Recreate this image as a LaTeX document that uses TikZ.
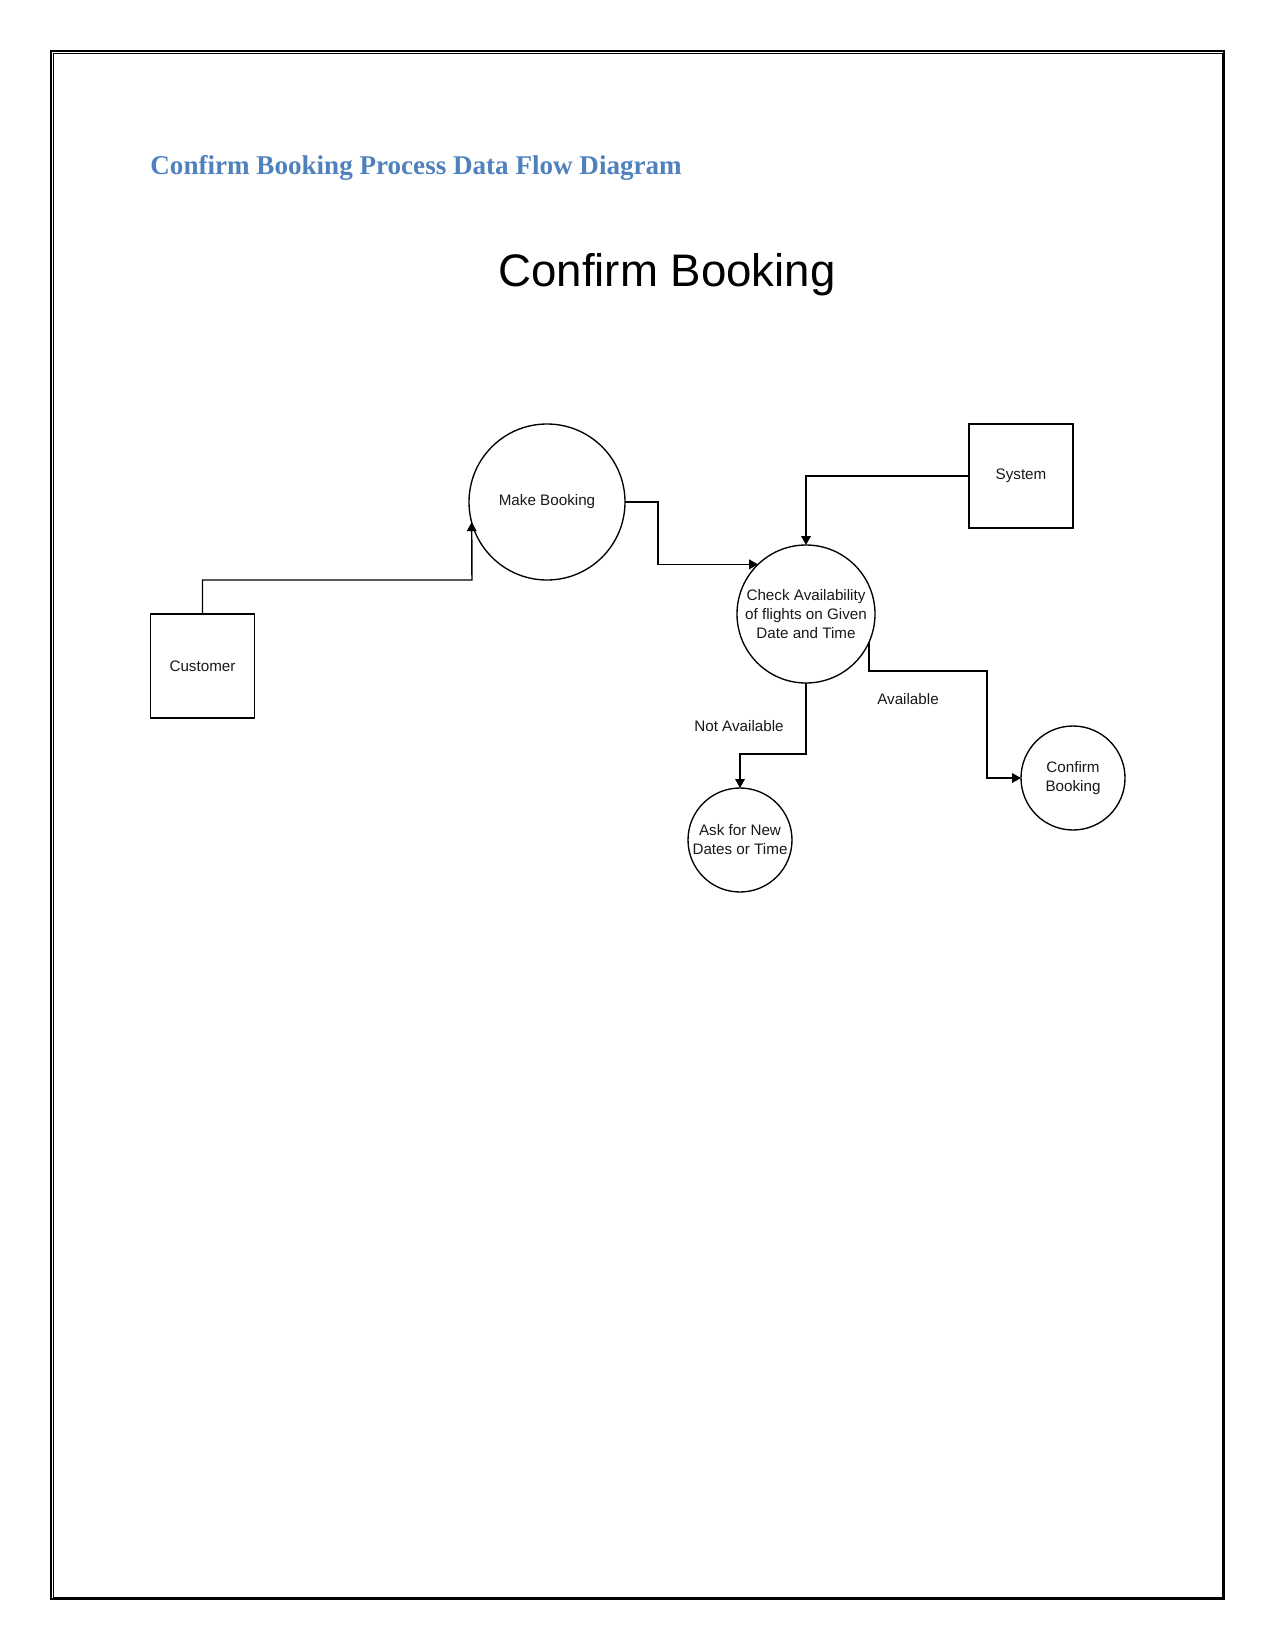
\documentclass[tikz,border=0pt]{standalone}
\usepackage{fontspec}
\setmainfont{Liberation Serif}
\newfontfamily\arialfont{Liberation Sans}
\usetikzlibrary{arrows.meta}
\definecolor{titleblue}{RGB}{79,129,189}
\begin{document}
\begin{tikzpicture}[x=0.48pt,y=-0.48pt,
  lbl/.style={font=\arialfont\fontsize{7.3pt}{9.1pt}\selectfont,inner sep=0pt,align=center,text=black!90},
  procc/.style={circle,draw,line width=0.65pt,inner sep=0pt,outer sep=0pt,lbl},
  ent/.style={rectangle,draw,line width=0.65pt,inner sep=0pt,outer sep=0pt,minimum width=104*0.48pt,minimum height=104*0.48pt,lbl},
  flow/.style={line width=0.7pt,-{Triangle[length=4.3pt,width=4.6pt]}},
  plain/.style={line width=0.7pt}]
\useasboundingbox (0,0) rectangle (1275,1651);
\fill[white] (0,0) rectangle (1275,1651);
% page border
\draw[line width=0.8pt] (51,51) rectangle (1224,1599.3);
\draw[line width=0.5pt] (53.8,53.8) rectangle (1222.2,1597.3);
% titles
\node[anchor=base west,inner sep=0pt,text=titleblue,font=\bfseries\fontsize{13pt}{15pt}\selectfont] (title) at (150,175) {Confirm Booking Process Data Flow Diagram};
\node[anchor=base,inner sep=0pt,font=\arialfont\fontsize{21.9pt}{26pt}\selectfont] (head) at (667,286.5) {Confirm Booking};
% nodes
\node[procc,minimum size=156*0.48pt] (mb) at (547,502) {Make Booking};
\node[procc,minimum size=138*0.48pt] (chk) at (806,614) {Check Availability\\of flights on Given\\Date and Time};
\node[procc,minimum size=104*0.48pt] (ask) at (740,840) {Ask for New\\Dates or Time};
\node[procc,minimum size=104*0.48pt] (conf) at (1073,778) {Confirm\\Booking};
\node[ent] (cust) at (202.5,666) {Customer};
\node[ent] (sys) at (1021,476) {System};
% helper coordinates
\coordinate (c1) at (472,580);
\coordinate (a1) at (987,671);
\coordinate (a2) at (806,754);
% connectors
\draw[flow] (cust.north) |- (c1) -- (mb.195.6);
\draw[flow] (mb.east) -- ++(33,0) |- (chk.134.4);
\draw[flow] (sys.west) -| (chk.north);
\draw[flow] (chk.-24) |- (a1) |- (conf.west);
\draw[flow] (chk.south) -- (a2) -| (ask.north);
% labels
\node[lbl] (lavail) at (908,699) {Available};
\node[lbl] (lnot) at (739,726) {Not Available};
\end{tikzpicture}
\end{document}
